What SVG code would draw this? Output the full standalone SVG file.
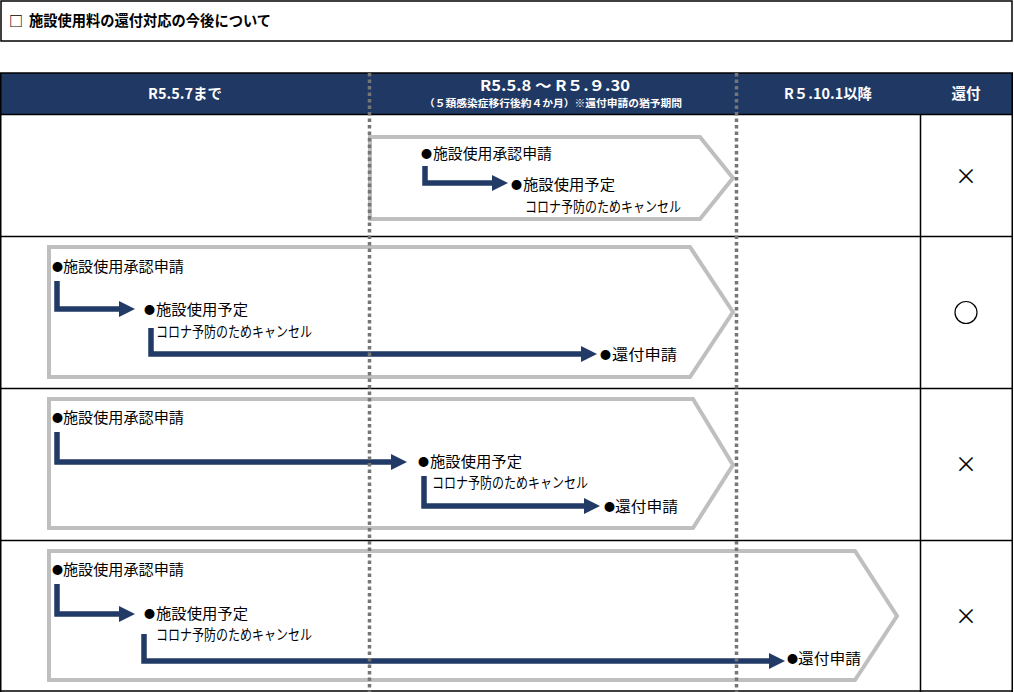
<svg xmlns="http://www.w3.org/2000/svg" width="1014" height="692" viewBox="0 0 1014 692">
<defs>
<style>
.t{font-family:"Noto Sans CJK JP","Noto Sans",sans-serif;font-size:14.5px;fill:#000}
.b{font-family:"Noto Sans CJK JP","Noto Sans",sans-serif;font-size:11px;fill:#000}
.h{font-family:"Noto Sans CJK JP","Liberation Sans",sans-serif;font-weight:bold;fill:#fff;text-anchor:middle}
.pent{fill:#fff;stroke:#BFBFBF;stroke-width:4}
.grid{stroke:#000;stroke-width:1.5;fill:none}
.dash{stroke:#767676;stroke-width:3.5;stroke-dasharray:3.5 3;fill:none}
.arr{stroke:#213A66;stroke-width:5.5;fill:none;stroke-linejoin:miter;marker-end:url(#ah)}
.mk{font-family:"Noto Sans CJK JP","DejaVu Sans",sans-serif;text-anchor:middle;fill:#000}
</style>
<marker id="ah" markerUnits="userSpaceOnUse" markerWidth="16" markerHeight="16" refX="2" refY="8" orient="auto">
<path d="M0,0 L16,8 L0,16 z" fill="#213A66"/>
</marker>
</defs>
<rect width="1014" height="692" fill="#fff"/>
<g id="title">
<rect x="1" y="1" width="1011" height="40" class="grid"/>
<text x="9" y="26" style="font-family:'Noto Sans CJK JP',sans-serif;font-size:14px;font-weight:bold">□</text>
<text x="29" y="26" textLength="242" lengthAdjust="spacingAndGlyphs" style="font-family:'Noto Sans CJK JP',sans-serif;font-size:15px;font-weight:bold">施設使用料の還付対応の今後について</text>
</g>
<g id="header">
<rect x="1" y="73" width="1011" height="41" fill="#203864"/>
<text x="185" y="99" class="h" font-size="14.5" textLength="74" lengthAdjust="spacingAndGlyphs">R5.5.7まで</text>
<text x="555" y="91" class="h" font-size="14.5" textLength="150" lengthAdjust="spacingAndGlyphs" xml:space="preserve">R5.5.8 ～ R５.９.30</text>
<text x="553" y="107" class="h" font-size="10" textLength="258" lengthAdjust="spacingAndGlyphs">（５類感染症移行後約４か月）※還付申請の猶予期間</text>
<text x="828" y="99" class="h" font-size="14.5" textLength="88" lengthAdjust="spacingAndGlyphs">R５.10.1以降</text>
<text x="966" y="99" class="h" font-size="14.5">還付</text>
</g>
<g id="table-grid">
<line x1="0" y1="73" x2="1013" y2="73" class="grid"/>
<line x1="0" y1="114.5" x2="1013" y2="114.5" class="grid"/>
<line x1="0" y1="236.5" x2="1013" y2="236.5" class="grid"/>
<line x1="0" y1="388.5" x2="1013" y2="388.5" class="grid"/>
<line x1="0" y1="540.5" x2="1013" y2="540.5" class="grid"/>
<line x1="0" y1="691" x2="1013" y2="691" class="grid"/>
<line x1="0.75" y1="73" x2="0.75" y2="692" class="grid"/>
<line x1="920.5" y1="114" x2="920.5" y2="692" class="grid"/>
<line x1="1012.25" y1="73" x2="1012.25" y2="692" class="grid"/>
</g>
<g id="row1">
<polygon class="pent" points="370,137 700,137 733,178 700,219 370,219"/>
<text class="b" x="421" y="158">●</text>
<text class="t" x="433" y="159" textLength="119" lengthAdjust="spacingAndGlyphs">施設使用承認申請</text>
<text class="b" x="511" y="189">●</text>
<text class="t" x="523" y="190" textLength="92" lengthAdjust="spacingAndGlyphs">施設使用予定</text>
<text class="t" x="525" y="212" textLength="156" lengthAdjust="spacingAndGlyphs">コロナ予防のためキャンセル</text>
<text class="mk" x="966" y="184" font-size="22">×</text>
</g>
<g id="row2">
<polygon class="pent" points="49,247 690,247 733,312 690,377 49,377"/>
<text class="b" x="52" y="271">●</text>
<text class="t" x="63" y="272" textLength="121" lengthAdjust="spacingAndGlyphs">施設使用承認申請</text>
<text class="b" x="144" y="314">●</text>
<text class="t" x="156" y="315" textLength="92" lengthAdjust="spacingAndGlyphs">施設使用予定</text>
<text class="t" x="156" y="337" textLength="156" lengthAdjust="spacingAndGlyphs">コロナ予防のためキャンセル</text>
<text class="b" x="600" y="359">●</text>
<text class="t" x="612" y="360" textLength="65" lengthAdjust="spacingAndGlyphs">還付申請</text>
<circle cx="966" cy="312.5" r="11" fill="none" stroke="#000" stroke-width="1.2"/>
</g>
<g id="row3">
<polygon class="pent" points="49,399 693,399 733,465 693,528 49,528"/>
<text class="b" x="52" y="422">●</text>
<text class="t" x="63" y="423" textLength="121" lengthAdjust="spacingAndGlyphs">施設使用承認申請</text>
<text class="b" x="418" y="466">●</text>
<text class="t" x="430" y="467" textLength="92" lengthAdjust="spacingAndGlyphs">施設使用予定</text>
<text class="t" x="432" y="488" textLength="156" lengthAdjust="spacingAndGlyphs">コロナ予防のためキャンセル</text>
<text class="b" x="604" y="511">●</text>
<text class="t" x="615" y="512" textLength="63" lengthAdjust="spacingAndGlyphs">還付申請</text>
<text class="mk" x="966" y="472" font-size="22">×</text>
</g>
<g id="row4">
<polygon class="pent" points="49,551 855,551 897,616 855,680 49,680"/>
<text class="b" x="52" y="574">●</text>
<text class="t" x="63" y="575" textLength="121" lengthAdjust="spacingAndGlyphs">施設使用承認申請</text>
<text class="b" x="144" y="618">●</text>
<text class="t" x="156" y="619" textLength="92" lengthAdjust="spacingAndGlyphs">施設使用予定</text>
<text class="t" x="156" y="640" textLength="156" lengthAdjust="spacingAndGlyphs">コロナ予防のためキャンセル</text>
<text class="b" x="787" y="663">●</text>
<text class="t" x="798" y="664" textLength="63" lengthAdjust="spacingAndGlyphs">還付申請</text>
<text class="mk" x="966" y="624" font-size="22">×</text>
</g>
<g id="connectors">
<path class="arr" d="M425,166 V183 H494"/>
<path class="arr" d="M57,281 V309 H121"/>
<path class="arr" d="M151,328 V354 H583"/>
<path class="arr" d="M57,432 V462 H393"/>
<path class="arr" d="M424,476 V506 H586"/>
<path class="arr" d="M57,584 V614 H121"/>
<path class="arr" d="M144,634 V661 H771"/>
</g>
<g id="period-dividers">
<line x1="369.5" y1="73" x2="369.5" y2="692" class="dash"/>
<line x1="736.5" y1="73" x2="736.5" y2="692" class="dash"/>
</g>
</svg>
